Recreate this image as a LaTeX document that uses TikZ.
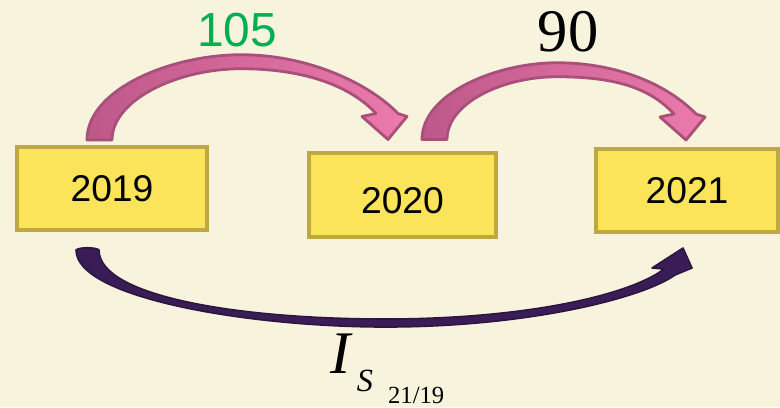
\documentclass[tikz,border=0pt]{standalone}
\usepackage{fontspec}
\setmainfont{Liberation Sans}
\newfontfamily\timesfont{Liberation Serif}
\usetikzlibrary{calc}
\definecolor{bgcream}{HTML}{F7F3DC}
\definecolor{boxfill}{HTML}{FCE45A}
\definecolor{boxedge}{HTML}{BEA940}
\definecolor{pinkedge}{HTML}{A8507A}
\definecolor{pinkleft}{HTML}{BE588A}
\definecolor{pinkright}{HTML}{EC7BAC}
\definecolor{plumfill}{HTML}{3A1D56}
\definecolor{plumedge}{HTML}{2C1541}
\definecolor{numgreen}{HTML}{00B050}
% curved block arrow: tail, tip, rise of the arc above the tail
\newcommand\bentarrow[3]{%
  \path[pinkarrow]
    ($(#1)+(-12,0)$) .. controls ($(#1)+(-12,{-0.6*#3})$) and ($(#1)!0.25!(#2)+(0,{-#3})$)
    .. ($(#1)!0.49!(#2)+(0,{-#3})$) .. controls ($(#1)!0.73!(#2)+(0,{-#3})$) and ($(#2)+(-18,-55)$)
    .. ($(#2)+(10,-26)$) -- ($(#2)+(19,-23)$) -- (#2) -- ($(#2)+(-26,-23)$) -- ($(#2)+(-12,-26)$)
    .. controls ($(#2)+(-36,-52)$) and ($(#1)!0.72!(#2)+(0,{14-#3})$)
    .. ($(#1)!0.49!(#2)+(0,{14-#3})$) .. controls ($(#1)!0.27!(#2)+(0,{14-#3})$) and ($(#1)+(13,{-0.47*#3})$)
    .. ($(#1)+(13,0)$) -- cycle;}

\begin{document}
\begin{tikzpicture}[x=0.025cm,y=-0.025cm,
    yearbox/.style={draw=boxedge,fill=boxfill,line width=0.1cm,inner sep=0pt,
      minimum height=2.075cm,font=\fontsize{26.5}{30}\selectfont},
    pinkarrow/.style={draw=pinkedge,line width=0.07cm,line join=round,
      left color=pinkleft,right color=pinkright},
    plumarrow/.style={fill=plumfill,draw=plumedge,line width=0.04cm,line join=round}]
  \useasboundingbox (0,0) rectangle (780,407);
  \fill[bgcream] (0,0) rectangle (780,407);
  % the three years
  \node[yearbox,minimum width=4.725cm] (y19) at (112,188.5) {2019};
  \node[yearbox,minimum width=4.675cm] (y20) at (402.5,195) {\raisebox{-0.125cm}[\height][0pt]{2020}};
  \node[yearbox,minimum width=4.55cm] (y21) at (687,190.5) {2021};
  % arrow ends
  \coordinate (t1) at ($(y19.north)+(-13,-5)$);
  \coordinate (h1) at ($(y20.north)+(-14.5,-12)$);
  \coordinate (t2) at ($(y20.north)+(31.5,-12)$);
  \coordinate (h2) at ($(y21.north)+(-1,-7)$);
  \coordinate (t3) at ($(y19.south)+(-24,16)$);
  \coordinate (h3) at ($(y21.south)+(-4,14)$);
  % yearly steps
  \bentarrow{t1}{h1}{85}
  \bentarrow{t2}{h2}{77}
  \node[numgreen,anchor=base,inner sep=0pt,font=\fontsize{34}{36}\selectfont] (g1) at (237,47) {105};
  \node[anchor=base,inner sep=0pt,font=\timesfont\fontsize{43}{46}\selectfont] (g2) at (568,52) {90};
  % two-year link
  \path[plumarrow]
    ($(t3)+(-12,2)$) .. controls ($(t3)+(-12,50)$) and ($(t3)!0.27!(h3)+(0,79)$)
    .. ($(t3)!0.5!(h3)+(0,79)$) .. controls ($(t3)!0.74!(h3)+(0,79)$) and ($(h3)+(-40,50)$)
    .. ($(h3)+(-8,27)$) -- ($(h3)+(9,20)$) -- (h3) -- ($(h3)+(-31,20)$) -- ($(h3)+(-19,21)$)
    .. controls ($(h3)+(-55,48)$) and ($(t3)!0.73!(h3)+(0,71)$)
    .. ($(t3)!0.5!(h3)+(0,71)$) .. controls ($(t3)!0.25!(h3)+(0,71)$) and ($(t3)+(11,48)$)
    .. ($(t3)+(11,2)$) .. controls ($(t3)+(8,-1)$) and ($(t3)+(-9,-1)$) .. cycle;
  \node[anchor=base west,inner sep=0pt,font=\timesfont] (is) at (330,373)
    {\fontsize{43}{46}\selectfont\textit{I}\hspace{0.1cm}\raisebox{-0.45cm}{\fontsize{23}{25}\selectfont\textit{S}\hspace{0.38cm}\raisebox{-0.3cm}{\fontsize{17.5}{19}\selectfont 21/19}}};
\end{tikzpicture}
\end{document}
